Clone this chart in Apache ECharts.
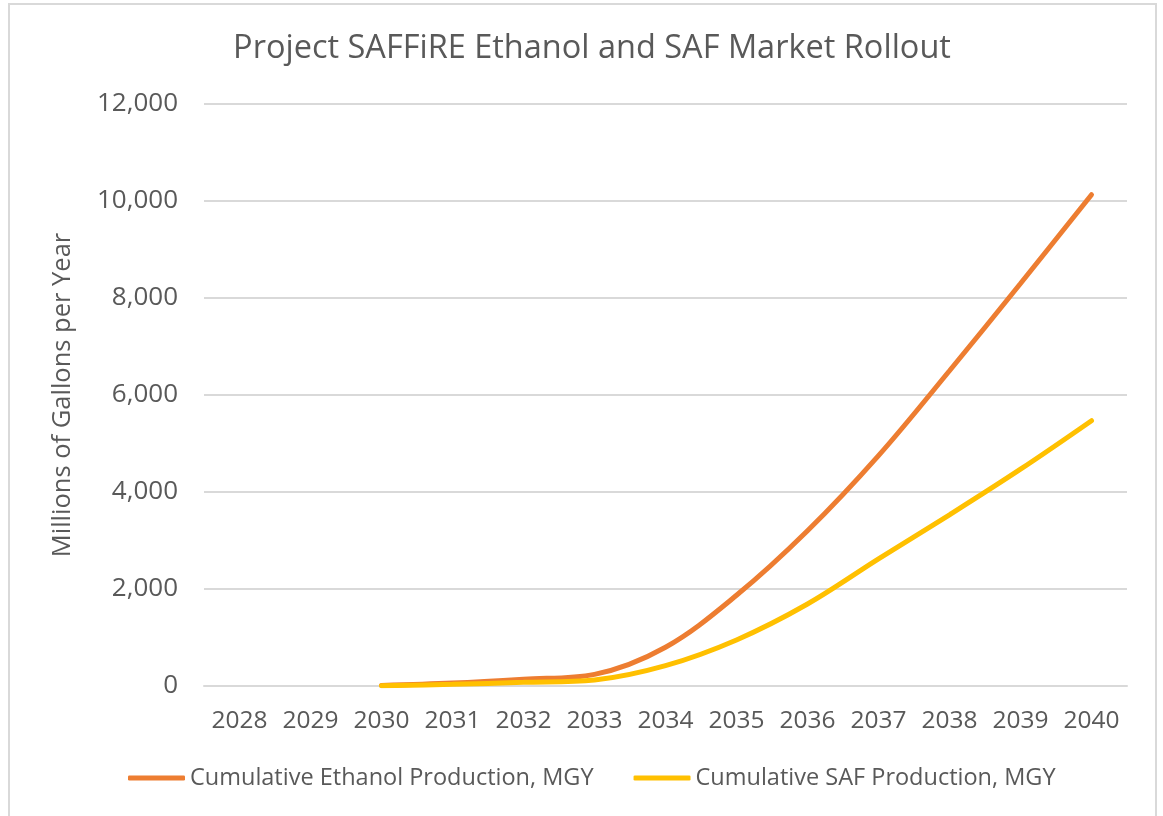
<!DOCTYPE html>
<html>

<head>
    <meta charset="UTF-8">
    <title>Project SAFFiRE Ethanol and SAF Market Rollout</title>
    <script src="https://cdn.jsdelivr.net/npm/echarts@6/dist/echarts.min.js"></script>
    <style>
        html, body { margin: 0; padding: 0; background: #fff; }
        #chart { width: 1163px; height: 816px; }
    </style>
</head>

<body>
    <div id="chart"></div>
    <script>
        // years on the x axis
        const years = ['2028', '2029', '2030', '2031', '2032', '2033', '2034',
            '2035', '2036', '2037', '2038', '2039', '2040'];
        // cumulative production, MGY
        const ethanol = [null, null, 10, 60, 140, 240, 800, 1870, 3200, 4750, 6500, 8300, 10130];
        const saf = [null, null, 5, 35, 75, 125, 420, 950, 1690, 2620, 3530, 4470, 5470];

        const textColor = '#595959';
        const font = 'Open Sans';

        const chart = echarts.init(document.getElementById('chart'));
        chart.setOption({
            textStyle: { fontFamily: font },
            title: {
                text: 'Project SAFFiRE Ethanol and SAF Market Rollout',
                left: 587,
                textAlign: 'center',
                top: 27,
                textStyle: { fontFamily: font, fontSize: 32.5, fontWeight: 'normal', color: textColor }
            },
            graphic: [{
                type: 'rect',
                shape: { x: 9, y: 4, width: 1147, height: 840 },
                style: { fill: null, stroke: '#d9d9d9', lineWidth: 2 },
                silent: true
            }],
            grid: { left: 204, right: 36, top: 104, bottom: 130 },
            legend: {
                left: 128,
                top: 766,
                padding: 0,
                icon: 'roundRect',
                itemWidth: 57,
                itemHeight: 5,
                itemGap: 40,
                textStyle: { fontFamily: font, fontSize: 23.5, color: textColor }
            },
            xAxis: {
                type: 'category',
                data: years,
                boundaryGap: true,
                axisLine: { lineStyle: { color: '#d9d9d9', width: 2 } },
                axisTick: { show: false },
                axisLabel: {
                    color: textColor, fontFamily: font, fontSize: 24.5, margin: 23,
                    interval: 0, hideOverlap: false
                }
            },
            yAxis: {
                type: 'value',
                min: 0,
                max: 12000,
                interval: 2000,
                name: 'Millions of Gallons per Year',
                nameLocation: 'middle',
                nameGap: 128,
                nameTextStyle: { color: textColor, fontFamily: font, fontSize: 25.5 },
                axisLine: { show: false },
                axisTick: { show: false },
                splitLine: { lineStyle: { color: '#d9d9d9', width: 2 } },
                axisLabel: {
                    color: textColor, fontFamily: font, fontSize: 26, margin: 26,
                    formatter: v => v.toLocaleString('en-US')
                }
            },
            series: [{
                name: 'Cumulative Ethanol Production, MGY',
                type: 'line',
                data: ethanol,
                smooth: 0.35,
                showSymbol: false,
                lineStyle: { color: '#ED7D31', width: 5, cap: 'round' },
                itemStyle: { color: '#ED7D31' }
            }, {
                name: 'Cumulative SAF Production, MGY',
                type: 'line',
                data: saf,
                smooth: 0.35,
                showSymbol: false,
                lineStyle: { color: '#FFC000', width: 5, cap: 'round' },
                itemStyle: { color: '#FFC000' }
            }]
        });
    </script>
</body>

</html>
